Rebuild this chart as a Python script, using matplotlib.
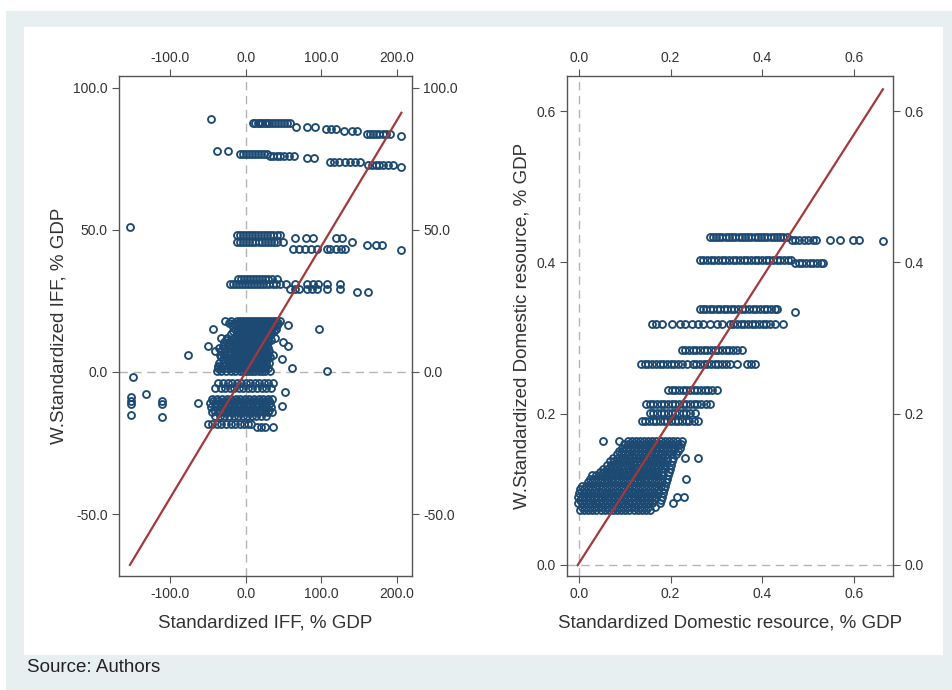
import numpy as np
import matplotlib.pyplot as plt
from matplotlib.patches import Rectangle
from matplotlib.ticker import FormatStrFormatter

#====================================================
# Data: (y, [x, x, ...]) rows
#====================================================

# left panel: Standardized IFF, % GDP
iff_top = [
    (89.0, [-46]),
    (87.6, [10, 13, 16, 19, 22, 25, 28, 31, 35, 39, 43, 47, 51, 55, 59]),
    (86.0, [66, 81, 92]),
    (85.6, [106, 113, 120]),
    (84.6, [130, 140, 147]),
    (83.8, [160, 164, 168, 172, 176, 181, 186, 191]),
    (82.9, [206]),
    (77.8, [-38, -23]),
    (76.8, [-8, -4, 0, 4, 8, 12, 16, 20, 24, 28]),
    (75.8, [32, 36, 41, 46, 51, 57, 64]),
    (75.2, [81, 90]),
    (74.0, [111, 117, 124, 131, 138, 145, 151]),
    (72.8, [162, 167, 172, 177, 182, 188, 195]),
    (72.0, [206]),
]
iff_mid = [
    (51.0, [-153]),
    (48.0, [-12, -8, -4, 0, 4, 8, 12, 16, 20, 24, 28, 32, 36, 41, 45]),
    (47.0, [65, 80, 89, 120, 127]),
    (45.6, [-11, -7, -3, 1, 5, 9, 13, 17, 21, 25, 29, 33, 37, 42, 49, 140]),
    (44.5, [160, 173, 180]),
    (43.2, [63, 70, 78, 86, 94, 107, 112, 119, 126, 131]),
    (42.8, [206]),
    (32.8, [-10, -6, -2, 2, 6, 10, 14, 18, 22, 26, 30, 35, 41]),
    (30.8, [-21, -17, -13, -9, -5, -1, 3, 7, 11, 15, 19, 23, 27, 31, 36,
            40, 45, 54, 65, 81, 89, 96, 107, 125]),
    (29.0, [58, 65, 71, 81, 88, 95, 107, 125]),
    (28.0, [147, 162]),
]
iff_core = [
    (18.0, [-27, -20, -12, -8, -4, 0, 4, 8, 12, 16, 20, 24, 28, 32, 36, 40, 45]),
    (17.25, [-22, -16, -10, -6, -2, 2, 6, 10, 14, 18, 22, 26, 30, 34, 38, 43]),
    (16.5, [-18, -10, -6, -2, 2, 6, 10, 14, 18, 22, 26, 30, 34, 38, 42, 56]),
    (15.0, [-43, -14, -9, -5, -1, 3, 7, 11, 15, 19, 23, 27, 31, 35, 40, 97]),
    (14.25, [-17, -11, -7, -3, 1, 5, 9, 13, 17, 21, 25, 29, 33, 37]),
    (13.5, [-20, -12, -7, -3, 1, 5, 9, 13, 17, 21, 25, 29, 33]),
    (12.0, [-32, -25, -15, -10, -6, -2, 2, 6, 10, 14, 18, 22, 26, 30, 39]),
    (11.25, [-26, -19, -13, -8, -4, 0, 4, 8, 12, 16, 20, 24, 28, 33]),
    (10.5, [-28, -22, -16, -11, -7, -3, 1, 5, 9, 13, 17, 21, 25, 29, 49]),
    (9.0, [-50, -30, -24, -18, -13, -8, -4, 0, 4, 8, 12, 16, 20, 24, 28, 56]),
    (8.25, [-35, -28, -21, -16, -11, -6, -2, 2, 6, 10, 14, 18, 22, 26, 30]),
    (7.5, [-40, -33, -27, -21, -15, -10, -5, -1, 3, 7, 11, 15, 19, 23, 27, 31]),
    (6.0, [-76, -34, -28, -22, -16, -11, -6, -2, 2, 6, 10, 14, 18, 22, 26, 30, 36]),
    (5.25, [-32, -26, -20, -15, -10, -5, -1, 3, 7, 11, 15, 19, 23, 27, 32]),
    (4.5, [-30, -25, -19, -14, -9, -4, 0, 4, 8, 12, 16, 20, 24, 28, 48]),
    (3.0, [-35, -28, -22, -16, -10, -5, -1, 3, 7, 11, 15, 19, 23, 27, 31]),
    (2.25, [-36, -30, -24, -18, -12, -6, -1, 3, 7, 11, 15, 19, 23, 27]),
    (1.5, [-37, -31, -25, -19, -13, -7, -2, 2, 6, 10, 14, 18, 22, 26, 30, 61]),
    (0.3, [-38, -32, -26, -20, -14, -8, -3, 1, 5, 9, 13, 17, 21, 25, 32, 107]),
]
iff_low = [
    (-1.7, [-149]),
    (-4.0, [-37, -30, -24, -18, -12, -6, 0, 6, 12, 18, 24, 30, 36]),
    (-5.5, [-40, -33, -27, -21, -15, -9, -3, 3, 9, 15, 21, 27, 33]),
    (-7.0, [52]),
    (-7.6, [-132]),
    (-9.0, [-152]),
    (-9.5, [-45, -38, -31, -25, -19, -13, -7, -1, 5, 11, 17, 23, 29, 35]),
    (-10.2, [-152, -111]),
    (-10.25, [-43, -36, -29, -23, -17, -11, -5, 1, 7, 13, 19, 25, 31]),
    (-11.0, [-63, -47, -40, -34, -28, -22, -16, -10, -4, 2, 8, 14, 20, 26, 32]),
    (-11.3, [-152, -111]),
    (-12.0, [48]),
    (-12.5, [-46, -39, -33, -27, -21, -15, -9, -3, 3, 9, 15, 21, 27, 33]),
    (-13.25, [-42, -35, -29, -23, -17, -11, -5, 1, 7, 13, 19, 25, 31]),
    (-14.0, [-44, -37, -30, -24, -18, -12, -6, 0, 6, 12, 18, 24, 30, 35]),
    (-15.2, [-152]),
    (-15.5, [-40, -34, -28, -22, -16, -10, -4, 2, 8, 14, 20, 27]),
    (-16.0, [-111]),
    (-18.5, [-50, -44, -38, -32, -26, -20, -14, -8, -2, 3, 7]),
    (-19.5, [15, 20, 26, 36]),
]
iff_slope, iff_icept = 0.443, -0.1

# right panel: Standardized Domestic resource, % GDP
drm_high = [
    (0.434, [0.285, 0.292, 0.299, 0.306, 0.313, 0.320, 0.327, 0.334, 0.341,
             0.348, 0.355, 0.362, 0.369, 0.376, 0.383, 0.390, 0.397, 0.404,
             0.411, 0.418, 0.425, 0.432, 0.439, 0.446, 0.453]),
    (0.430, [0.464, 0.472, 0.480, 0.490, 0.500, 0.510, 0.518, 0.547, 0.569,
             0.598, 0.610]),
    (0.428, [0.663]),
    (0.403, [0.263, 0.271, 0.279, 0.287, 0.295, 0.303, 0.311, 0.319, 0.327,
             0.335, 0.343, 0.351, 0.359, 0.367, 0.375, 0.383, 0.391, 0.399,
             0.407, 0.415, 0.423, 0.431, 0.439, 0.447, 0.455, 0.463]),
    (0.399, [0.471, 0.479, 0.487, 0.495, 0.503, 0.511, 0.519, 0.527, 0.532]),
    (0.339, [0.263, 0.270, 0.278, 0.285, 0.293, 0.300, 0.308, 0.316, 0.323,
             0.331, 0.339, 0.347, 0.355, 0.363, 0.371, 0.379, 0.387, 0.395,
             0.403, 0.411, 0.419, 0.427, 0.432]),
    (0.335, [0.471]),
    (0.318, [0.159, 0.168, 0.180, 0.202, 0.220, 0.231, 0.246, 0.260, 0.271,
             0.285, 0.300, 0.311, 0.329, 0.337, 0.345, 0.353, 0.361, 0.369,
             0.377, 0.385, 0.393, 0.401, 0.409, 0.417, 0.427, 0.445]),
    (0.284, [0.224, 0.232, 0.240, 0.248, 0.256, 0.264, 0.272, 0.280, 0.288,
             0.296, 0.304, 0.312, 0.320, 0.328, 0.336, 0.344, 0.355]),
    (0.265, [0.135, 0.143, 0.151, 0.159, 0.168, 0.176, 0.184, 0.192, 0.200,
             0.208, 0.216, 0.225, 0.235, 0.248, 0.256, 0.264, 0.272, 0.280,
             0.288, 0.296, 0.304, 0.312, 0.320, 0.329, 0.344, 0.366, 0.375,
             0.383]),
    (0.231, [0.194, 0.202, 0.210, 0.218, 0.226, 0.234, 0.242, 0.250, 0.258,
             0.266, 0.274, 0.282, 0.290, 0.300]),
    (0.212, [0.146, 0.154, 0.162, 0.170, 0.178, 0.186, 0.194, 0.202, 0.210,
             0.218, 0.226, 0.234, 0.242, 0.250, 0.258, 0.266, 0.276, 0.286]),
    (0.201, [0.154, 0.162, 0.170, 0.178, 0.186, 0.194, 0.202, 0.210, 0.218,
             0.226, 0.234, 0.242, 0.252]),
    (0.190, [0.137, 0.145, 0.153, 0.161, 0.169, 0.177, 0.185, 0.193, 0.201,
             0.209, 0.217, 0.225, 0.233, 0.241, 0.250, 0.260]),
]
drm_low = [
    (0.164, [0.052, 0.088, 0.106, 0.115, 0.124, 0.133, 0.142, 0.151, 0.160,
             0.169, 0.178, 0.187, 0.196, 0.205, 0.214, 0.225]),
    (0.1595, [0.098, 0.107, 0.116, 0.125, 0.134, 0.143, 0.152, 0.161, 0.170,
              0.179, 0.188, 0.197, 0.206, 0.215, 0.222]),
    (0.155, [0.093, 0.102, 0.111, 0.120, 0.129, 0.138, 0.147, 0.156, 0.165,
             0.174, 0.183, 0.192, 0.201, 0.210, 0.220]),
    (0.1505, [0.088, 0.097, 0.106, 0.115, 0.124, 0.133, 0.142, 0.151, 0.160,
              0.169, 0.178, 0.187, 0.196, 0.205, 0.215]),
    (0.146, [0.083, 0.092, 0.101, 0.110, 0.119, 0.128, 0.137, 0.146, 0.155,
             0.164, 0.173, 0.182, 0.191, 0.200, 0.211]),
    (0.1415, [0.075, 0.084, 0.093, 0.102, 0.111, 0.120, 0.129, 0.138, 0.147,
              0.156, 0.165, 0.174, 0.183, 0.192, 0.206, 0.231, 0.260]),
    (0.137, [0.067, 0.076, 0.085, 0.094, 0.103, 0.112, 0.121, 0.130, 0.139,
             0.148, 0.157, 0.166, 0.175, 0.184, 0.193, 0.202]),
    (0.132, [0.060, 0.069, 0.078, 0.087, 0.096, 0.105, 0.114, 0.123, 0.132,
             0.141, 0.150, 0.159, 0.168, 0.177, 0.186, 0.200]),
    (0.127, [0.052, 0.061, 0.070, 0.079, 0.088, 0.097, 0.106, 0.115, 0.124,
             0.133, 0.142, 0.151, 0.160, 0.169, 0.178, 0.188, 0.198]),
    (0.1225, [0.045, 0.054, 0.063, 0.072, 0.081, 0.090, 0.099, 0.108, 0.117,
              0.126, 0.135, 0.144, 0.153, 0.162, 0.171, 0.180, 0.196]),
    (0.118, [0.028, 0.037, 0.046, 0.055, 0.064, 0.073, 0.082, 0.091, 0.100,
             0.109, 0.118, 0.127, 0.136, 0.145, 0.154, 0.163, 0.172, 0.181,
             0.194]),
    (0.1135, [0.024, 0.033, 0.042, 0.051, 0.060, 0.069, 0.078, 0.087, 0.096,
              0.105, 0.114, 0.123, 0.132, 0.141, 0.150, 0.159, 0.168, 0.177,
              0.192, 0.233]),
    (0.109, [0.019, 0.028, 0.037, 0.046, 0.055, 0.064, 0.073, 0.082, 0.091,
             0.100, 0.109, 0.118, 0.127, 0.136, 0.145, 0.154, 0.163, 0.172,
             0.181, 0.190]),
    (0.104, [0.007, 0.016, 0.025, 0.034, 0.043, 0.052, 0.061, 0.070, 0.079,
             0.088, 0.097, 0.106, 0.115, 0.124, 0.133, 0.142, 0.151, 0.160,
             0.169, 0.178, 0.187]),
    (0.0995, [0.002, 0.011, 0.020, 0.029, 0.038, 0.047, 0.056, 0.065, 0.074,
              0.083, 0.092, 0.101, 0.110, 0.119, 0.128, 0.137, 0.146, 0.155,
              0.164, 0.173, 0.185]),
    (0.095, [0.001, 0.010, 0.019, 0.028, 0.037, 0.046, 0.055, 0.064, 0.073,
             0.082, 0.091, 0.100, 0.109, 0.118, 0.127, 0.136, 0.145, 0.154,
             0.163, 0.172, 0.183]),
    (0.090, [-0.003, 0.006, 0.015, 0.024, 0.033, 0.042, 0.051, 0.060, 0.069,
             0.078, 0.087, 0.096, 0.105, 0.114, 0.123, 0.132, 0.141, 0.150,
             0.159, 0.168, 0.181, 0.213, 0.230]),
    (0.0855, [0.002, 0.011, 0.020, 0.029, 0.038, 0.047, 0.056, 0.065, 0.074,
              0.083, 0.092, 0.101, 0.110, 0.119, 0.128, 0.137, 0.146, 0.155,
              0.164, 0.178]),
    (0.081, [-0.003, 0.007, 0.016, 0.025, 0.034, 0.043, 0.052, 0.061, 0.070,
             0.079, 0.088, 0.097, 0.106, 0.115, 0.124, 0.133, 0.142, 0.151,
             0.160, 0.176, 0.205]),
    (0.0765, [0.006, 0.015, 0.024, 0.033, 0.042, 0.051, 0.060, 0.069, 0.078,
              0.087, 0.096, 0.105, 0.114, 0.123, 0.132, 0.141, 0.150, 0.165]),
    (0.072, [0.002, 0.011, 0.020, 0.029, 0.038, 0.047, 0.056, 0.065, 0.074,
             0.083, 0.092, 0.101, 0.110, 0.119, 0.128, 0.137, 0.146, 0.155]),
]
drm_slope, drm_icept = 0.946, 0.002

iff_ticks = [-100, 0, 100, 200]
iff_yticks = [-50, 0, 50, 100]
drm_ticks = [0.0, 0.2, 0.4, 0.6]


def unpack(*groups):
    xs, ys = [], []
    for rows in groups:
        for y, xl in rows:
            xs += xl
            ys += [y] * len(xl)
    return np.array(xs), np.array(ys)


#====================================================
# Style
#====================================================

plt.rcParams.update({'font.family': ['Liberation Sans', 'DejaVu Sans'],
                     'font.size': 10})
navy = '#1d4a72'
maroon = '#a2393b'
frame = '#555555'

fig = plt.figure(figsize=(9.53, 6.90), dpi=100)
fig.patches.append(Rectangle((6 / 953, 0), 947 / 953, 679 / 690,
                             transform=fig.transFigure, fc='#e8eff1',
                             ec='none', zorder=-3))
fig.patches.append(Rectangle((24 / 953, 1 - 655 / 690), 919 / 953, 628 / 690,
                             transform=fig.transFigure, fc='white',
                             ec='none', zorder=-2))

ax1 = fig.add_axes([119 / 953, 1 - 576 / 690, 293 / 953, 500 / 690])
ax2 = fig.add_axes([567 / 953, 1 - 576 / 690, 326 / 953, 500 / 690])


def style(ax, xt, yt, fmt, xlab, ylab):
    ax.set_xticks(xt)
    ax.set_yticks(yt)
    ax.xaxis.set_major_formatter(FormatStrFormatter(fmt))
    ax.yaxis.set_major_formatter(FormatStrFormatter(fmt))
    ax.tick_params(direction='out', length=5, width=0.8, color=frame,
                   labelcolor='#333333', labelsize=10, pad=3,
                   top=True, right=True, labeltop=True, labelright=True)
    for s in ax.spines.values():
        s.set_color(frame)
        s.set_linewidth(1.0)
    ax.axhline(0, color='#b4b4b4', lw=1.0, dashes=(6, 4), zorder=1)
    ax.axvline(0, color='#b4b4b4', lw=1.0, dashes=(6, 4), zorder=1)
    ax.set_xlabel(xlab, fontsize=13.5, color='#333333', labelpad=10)
    ax.set_ylabel(ylab, fontsize=13.5, color='#333333', labelpad=4)


#====================================================
# Actual plot
#====================================================

x, y = unpack(iff_top, iff_mid, iff_core, iff_low)
ax1.plot(x, y, 'o', ms=5.0, mfc='none', mec=navy, mew=1.35, zorder=2)
xl = np.array([x.min(), x.max()])
ax1.plot(xl, iff_slope * xl + iff_icept, color=maroon, lw=1.6, zorder=3)
ax1.set_xlim(-167.5, 220)
ax1.set_ylim(-71.8, 104.1)
style(ax1, iff_ticks, iff_yticks, '%.1f',
      'Standardized IFF, % GDP', 'W.Standardized IFF, % GDP')

x, y = unpack(drm_high, drm_low)
ax2.plot(x, y, 'o', ms=5.0, mfc='none', mec=navy, mew=1.35, zorder=2)
xl = np.array([x.min(), x.max()])
ax2.plot(xl, drm_slope * xl + drm_icept, color=maroon, lw=1.6, zorder=3)
ax2.set_xlim(-0.0262, 0.685)
ax2.set_ylim(-0.0151, 0.6468)
style(ax2, drm_ticks, drm_ticks, '%.1f',
      'Standardized Domestic resource, % GDP',
      'W.Standardized Domestic resource, % GDP')

fig.text(27 / 953, 1 - 667 / 690, 'Source: Authors', fontsize=13.5,
         color='#222222', va='center', ha='left')

plt.savefig('out.png', dpi=100)
